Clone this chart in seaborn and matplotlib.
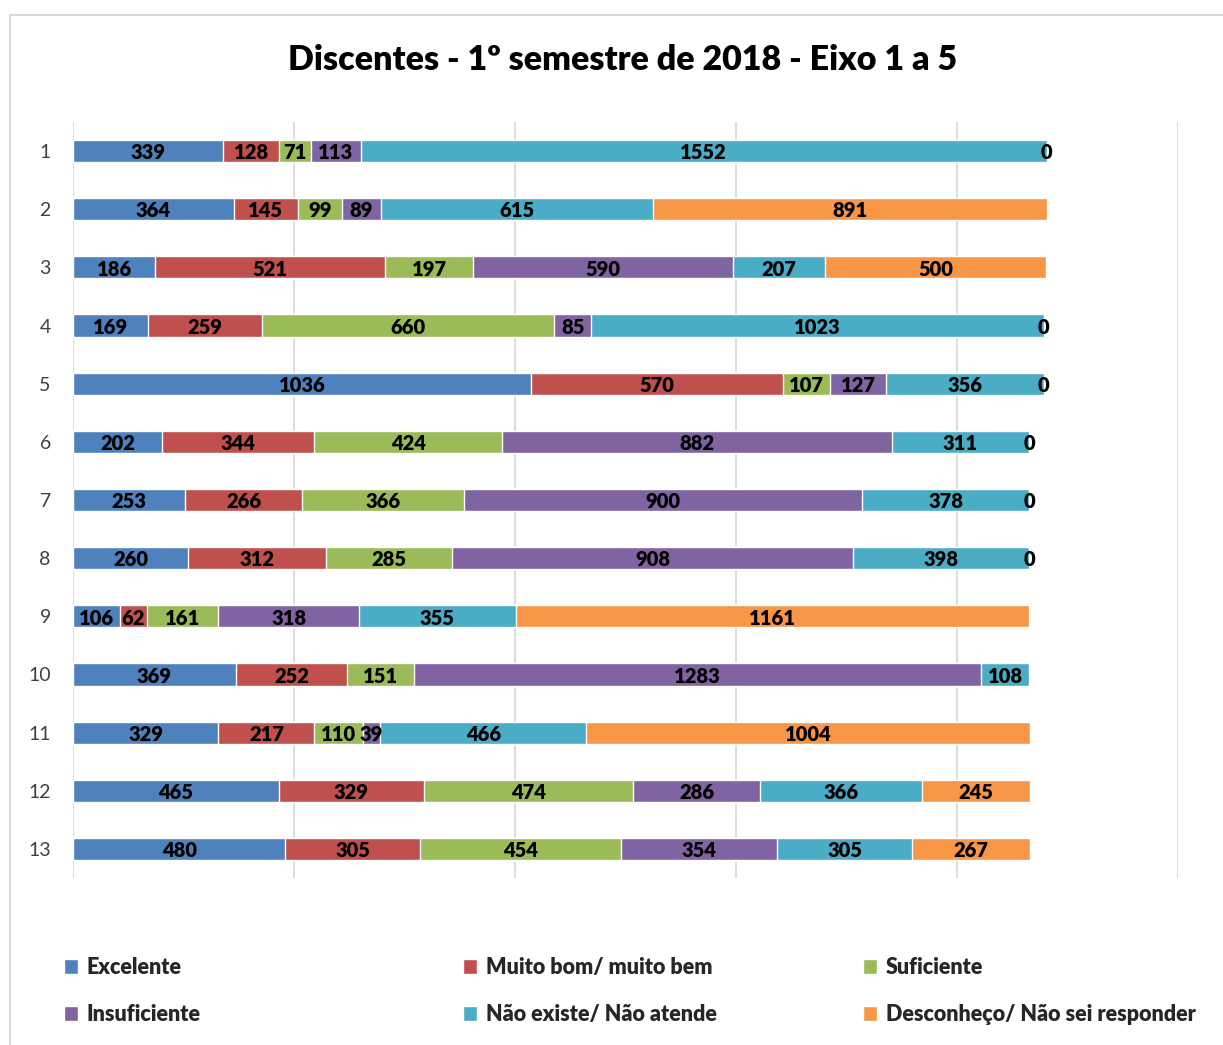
import numpy as np
import pandas as pd
import seaborn as sns
import matplotlib.pyplot as plt
from matplotlib.patches import Rectangle, Patch

rows = [str(i) for i in range(1, 14)]
categories = ['Excelente', 'Muito bom/ muito bem', 'Suficiente', 'Insuficiente',
              'Não existe/ Não atende', 'Desconheço/ Não sei responder']

excelente = [339, 364, 186, 169, 1036, 202, 253, 260, 106, 369, 329, 465, 480]
muito_bom = [128, 145, 521, 259, 570, 344, 266, 312, 62, 252, 217, 329, 305]
suficiente = [71, 99, 197, 660, 107, 424, 366, 285, 161, 151, 110, 474, 454]
insuficiente = [113, 89, 590, 85, 127, 882, 900, 908, 318, 1283, 39, 286, 354]
nao_existe = [1552, 615, 207, 1023, 356, 311, 378, 398, 355, 108, 466, 366, 305]
desconheco = [0, 891, 500, 0, 0, 0, 0, 0, 1161, np.nan, 1004, 245, 267]

colors = ['#4F81BD', '#C0504D', '#9BBB59', '#8064A2', '#4BACC6', '#F79646']

df = pd.DataFrame({'row': rows, categories[0]: excelente, categories[1]: muito_bom,
                   categories[2]: suficiente, categories[3]: insuficiente,
                   categories[4]: nao_existe, categories[5]: desconheco})
vals = df[categories].fillna(0)
cum = vals.cumsum(axis=1)

sns.set_style('white')
plt.rcParams['font.family'] = ['Lato', 'DejaVu Sans']
bold = 'heavy'

fig = plt.figure(figsize=(12.23, 10.45), dpi=100)
ax = fig.add_axes([73 / 1223, 1 - 878 / 1045, (1178 - 73) / 1223, (878 - 122) / 1045])

# stacked bars: draw cumulative totals from the last segment back to the first
for i in range(len(categories) - 1, -1, -1):
    sns.barplot(x=cum[categories[i]], y=df['row'], order=rows, orient='h',
                color=colors[i], width=0.38, saturation=1, ax=ax, zorder=2)

# segment labels
for i, cat in enumerate(categories):
    for j in range(len(rows)):
        v = df[cat].iloc[j]
        if pd.isna(v):
            continue
        left = cum[cat].iloc[j] - v
        ax.text(left + v / 2, j + 0.03, f'{int(v)}', ha='center', va='center',
                fontsize=14.5, fontweight=bold, color='black', zorder=3)

ax.set_xlim(0, 2500)
ax.set_ylim(12.5, -0.5)
ax.set_xticks(np.arange(0, 2501, 500))
ax.set_xticklabels([])
ax.tick_params(axis='x', length=0)
ax.tick_params(axis='y', length=0, labelsize=14, labelcolor='#404040', pad=16)
ax.xaxis.grid(True, color='#D9D9D9', linewidth=1.3, zorder=0)
ax.set_axisbelow(True)
for s in ax.spines.values():
    s.set_visible(False)
ax.set_xlabel('')
ax.set_ylabel('')

fig.text(623 / 1223, 1 - 60 / 1045, 'Discentes - 1º semestre de 2018 - Eixo 1 a 5',
         ha='center', va='center', fontsize=24.5, fontweight=bold, color='black')

# chart border
fig.patches.append(Rectangle((10 / 1223, -0.05), 1.2, 1.05 - 15 / 1045,
                             transform=fig.transFigure, fill=False,
                             edgecolor='#D9D9D9', linewidth=1.5))

# legend: three columns placed like the original
handles = [Patch(facecolor=c) for c in colors]
col_x = [64, 463, 863]
for c in range(3):
    idx = [c, c + 3]
    fig.legend([handles[k] for k in idx], [categories[k] for k in idx],
               loc='center left', bbox_to_anchor=(col_x[c] / 1223, 1 - 991 / 1045),
               frameon=False, handlelength=0.65, handleheight=0.65,
               handletextpad=0.4, labelspacing=1.2, borderaxespad=0, borderpad=0,
               prop={'size': 15.5, 'weight': bold})

fig.savefig('out.png', dpi=100)
